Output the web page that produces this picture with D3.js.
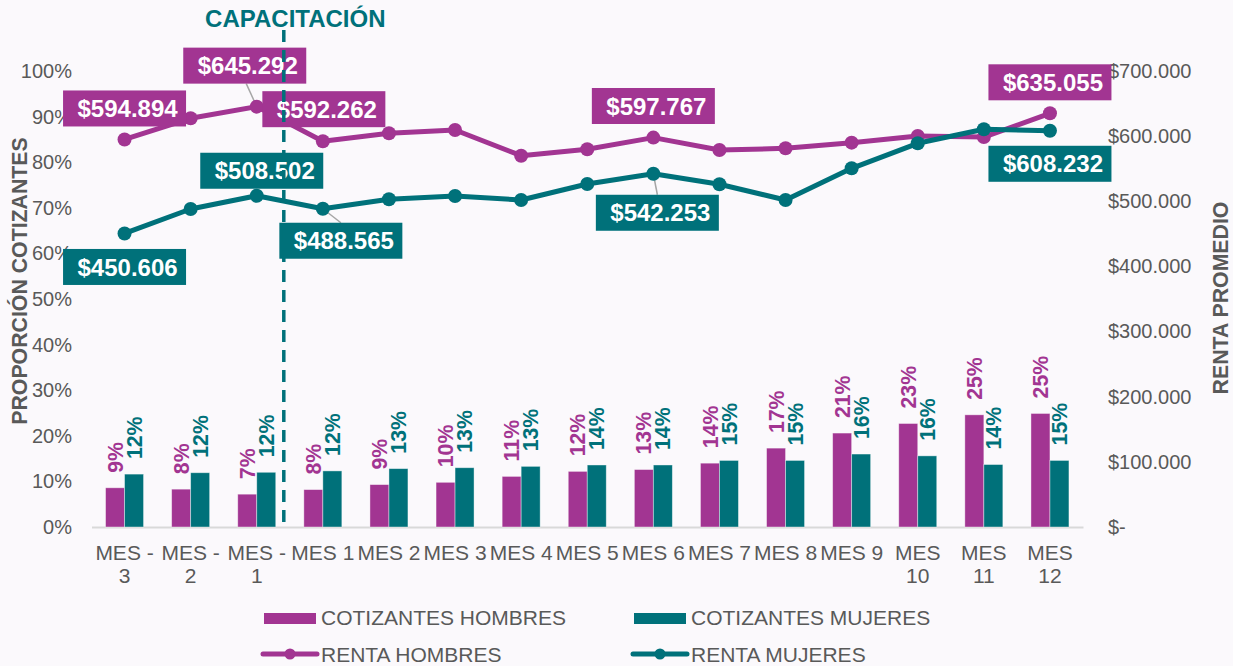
<!DOCTYPE html>
<html>
<head>
<meta charset="utf-8">
<script src="https://cdn.jsdelivr.net/npm/d3@7"></script>
<style>
  html, body { margin: 0; padding: 0; background: #fbf9fc; }
  svg { display: block; }
  text { font-family: "Liberation Sans", Arial, sans-serif; }
</style>
</head>
<body>
<svg id="chart" width="1233" height="666"></svg>
<script>
// ---------- DATA ----------
const categories = ["MES -3","MES -2","MES -1","MES 1","MES 2","MES 3","MES 4","MES 5","MES 6","MES 7","MES 8","MES 9","MES 10","MES 11","MES 12"];
const cotizantesHombres = [0.086,0.083,0.072,0.082,0.093,0.098,0.111,0.122,0.126,0.140,0.173,0.206,0.227,0.246,0.249];
const cotizantesMujeres = [0.116,0.119,0.120,0.123,0.128,0.130,0.133,0.136,0.136,0.146,0.146,0.160,0.156,0.137,0.146];
const rentaHombres = [594894,627400,645292,592262,604400,609400,570000,579800,597767,578700,581300,590000,600200,598500,635055];
const rentaMujeres = [450606,488200,508502,488565,503100,508100,502000,526500,542253,526100,502000,550600,589000,610500,608232];
const leftTicks = [0,0.1,0.2,0.3,0.4,0.5,0.6,0.7,0.8,0.9,1.0];
const rightTicks = [0,100000,200000,300000,400000,500000,600000,700000];
const legendNames = ["COTIZANTES HOMBRES","COTIZANTES MUJERES","RENTA HOMBRES","RENTA MUJERES"];
const eventLabel = "CAPACITACIÓN";
const leftTitle = "PROPORCIÓN COTIZANTES";
const rightTitle = "RENTA PROMEDIO";

// which renta points carry a label box (layout offsets relative to point)
const labelsH = [{i:0,dx:0,dy:-31},{i:2,dx:-12,dy:-41,leader:[1.5,18]},{i:3,dx:1,dy:-32},{i:8,dx:0,dy:-31.6},{i:14,dx:0,dy:-31}];
const labelsM = [{i:0,dx:0,dy:33.5},{i:2,dx:5,dy:-25},{i:3,dx:18,dy:32,leader:[0,-18]},{i:8,dx:4,dy:39,leader:[0,-18]},{i:14,dx:0,dy:33}];

// ---------- STYLE ----------
const MAG = "#a23592", TEAL = "#00717a", GRAY = "#595959";
const svg = d3.select("#chart");
svg.append("rect").attr("width",1233).attr("height",666).attr("fill","#fbf9fc");

const x = d3.scaleBand().domain(categories).range([91.5,1083]).padding(0);
const yL = d3.scaleLinear().domain([0,1]).range([527,71]);
const yR = d3.scaleLinear().domain([0,700000]).range([527,71]);
const cx = c => x(c) + x.bandwidth()/2;
const barW = 19;
const money = v => v === 0 ? "$-" : "$" + d3.format(",")(v).replace(/,/g,".");
const pct = d3.format(".0%");

// ---------- AXES ----------
const gL = svg.append("g").attr("transform","translate(75,0)")
  .call(d3.axisLeft(yL).tickValues(leftTicks).tickFormat(pct).tickSize(0).tickPadding(3));
gL.select(".domain").remove();
gL.selectAll("text").attr("fill",GRAY).style("font-size","20px").style("font-family","'Liberation Sans', Arial, sans-serif");

const gR = svg.append("g").attr("transform","translate(1105,0)")
  .call(d3.axisRight(yR).tickValues(rightTicks).tickFormat(money).tickSize(0).tickPadding(3));
gR.select(".domain").remove();
gR.selectAll("text").attr("fill",GRAY).style("font-size","20px").style("font-family","'Liberation Sans', Arial, sans-serif");

const gB = svg.append("g").attr("transform","translate(0,527)")
  .call(d3.axisBottom(x).tickSize(0).tickSizeOuter(0));
gB.select(".domain").attr("stroke","#d9d9d9").attr("stroke-width",2);
gB.selectAll("text").each(function(d){
  const t = d3.select(this);
  t.text(null).attr("y",0).attr("dy",null).attr("fill",GRAY)
   .style("font-size","21px").style("font-family","'Liberation Sans', Arial, sans-serif");
  t.text(d);
  let lines = [d];
  if (this.getComputedTextLength() > x.step() - 1) {
    const k = d.indexOf(" -");
    lines = k >= 0 ? [d.slice(0,k+2), d.slice(k+2)] : [d.slice(0,d.lastIndexOf(" ")), d.slice(d.lastIndexOf(" ")+1)];
  }
  t.text(null);
  lines.forEach((ln,j)=> t.append("tspan").attr("x",0).attr("y",33 + j*23).text(ln));
});

// axis titles
svg.append("text").attr("transform","translate(27,281) rotate(-90)")
  .attr("text-anchor","middle").attr("fill",GRAY).attr("font-weight","bold")
  .style("font-size","21.3px").text(leftTitle);
svg.append("text").attr("transform","translate(1228,298) rotate(-90)")
  .attr("text-anchor","middle").attr("fill",GRAY).attr("font-weight","bold")
  .style("font-size","21.3px").text(rightTitle);

// ---------- BARS ----------
const gBars = svg.append("g");
gBars.selectAll("rect.h").data(cotizantesHombres).join("rect")
  .attr("x",(d,i)=>cx(categories[i]) - barW).attr("width",barW)
  .attr("y",d=>yL(d)).attr("height",d=>yL(0)-yL(d))
  .attr("fill",MAG).attr("stroke","#ffffff").attr("stroke-opacity",0.5).attr("stroke-width",0.8);
gBars.selectAll("rect.m").data(cotizantesMujeres).join("rect")
  .attr("x",(d,i)=>cx(categories[i])).attr("width",barW)
  .attr("y",d=>yL(d)).attr("height",d=>yL(0)-yL(d))
  .attr("fill",TEAL).attr("stroke","#ffffff").attr("stroke-opacity",0.5).attr("stroke-width",0.8);

function barLabels(data, off, color){
  svg.append("g").selectAll("text").data(data).join("text")
    .attr("transform",(d,i)=>`translate(${cx(categories[i]) + off + 7.6},${yL(d) - 15}) rotate(-90)`)
    .attr("fill",color).attr("font-weight","bold").style("font-size","21.3px")
    .text(d=>pct(d));
}
barLabels(cotizantesHombres, -barW/2, MAG);
barLabels(cotizantesMujeres, barW/2, TEAL);

// ---------- LEADERS ----------
function leaders(vals, cfg){
  cfg.filter(c=>c.leader).forEach(c=>{
    const px = cx(categories[c.i]), py = yR(vals[c.i]);
    svg.append("line").attr("x1",px).attr("y1",py)
      .attr("x2",px + c.dx + c.leader[0]).attr("y2",py + c.dy + c.leader[1])
      .attr("stroke","#a6a6a6").attr("stroke-width",1.5);
  });
}
leaders(rentaHombres, labelsH);
leaders(rentaMujeres, labelsM);

// ---------- LINES ----------
function series(vals, color){
  const line = d3.line().x((d,i)=>cx(categories[i])).y(d=>yR(d));
  svg.append("path").datum(vals).attr("d",line).attr("fill","none")
    .attr("stroke",color).attr("stroke-width",5).attr("stroke-linejoin","round");
  svg.append("g").selectAll("circle").data(vals).join("circle")
    .attr("cx",(d,i)=>cx(categories[i])).attr("cy",d=>yR(d)).attr("r",7).attr("fill",color);
}
series(rentaHombres, MAG);
series(rentaMujeres, TEAL);

// ---------- VALUE BOXES ----------
function boxes(vals, cfg, color){
  cfg.forEach(c=>{
    const bx = cx(categories[c.i]) + c.dx, by = yR(vals[c.i]) + c.dy;
    svg.append("rect").attr("x",bx-61.5).attr("y",by-18).attr("width",123).attr("height",36).attr("fill",color);
    svg.append("text").attr("x",bx+3).attr("y",by).attr("dy","0.36em")
      .attr("text-anchor","middle").attr("fill","#ffffff").attr("font-weight","bold")
      .style("font-size","24px").text(money(vals[c.i]));
  });
}
boxes(rentaHombres, labelsH, MAG);
boxes(rentaMujeres, labelsM, TEAL);

// ---------- EVENT LINE ----------
const evX = x(categories[3]) - 6;
svg.append("line").attr("x1",evX).attr("x2",evX).attr("y1",30).attr("y2",522)
  .attr("stroke",TEAL).attr("stroke-width",3.5).attr("stroke-dasharray","12,8");
svg.append("text").attr("x",evX + 11.5).attr("y",27).attr("text-anchor","middle")
  .attr("fill",TEAL).attr("font-weight","bold").style("font-size","24px").text(eventLabel);

// ---------- LEGEND ----------
const lg = svg.append("g");
const legCols = [{x:264, c:MAG},{x:634, c:TEAL}];
[0,1].forEach(k=>{
  lg.append("rect").attr("x",legCols[k].x).attr("y",613).attr("width",52).attr("height",11).attr("fill",legCols[k].c);
  lg.append("text").attr("x",legCols[k].x+57).attr("y",625).attr("fill",GRAY).style("font-size","21px").text(legendNames[k]);
  lg.append("line").attr("x1",legCols[k].x-1).attr("x2",legCols[k].x+53).attr("y1",654).attr("y2",654)
    .attr("stroke",legCols[k].c).attr("stroke-width",5).attr("stroke-linecap","round");
  lg.append("circle").attr("cx",legCols[k].x+26).attr("cy",654).attr("r",5.5).attr("fill",legCols[k].c);
  lg.append("text").attr("x",legCols[k].x+57).attr("y",662).attr("fill",GRAY).style("font-size","21px").text(legendNames[k+2]);
});
</script>
</body>
</html>
